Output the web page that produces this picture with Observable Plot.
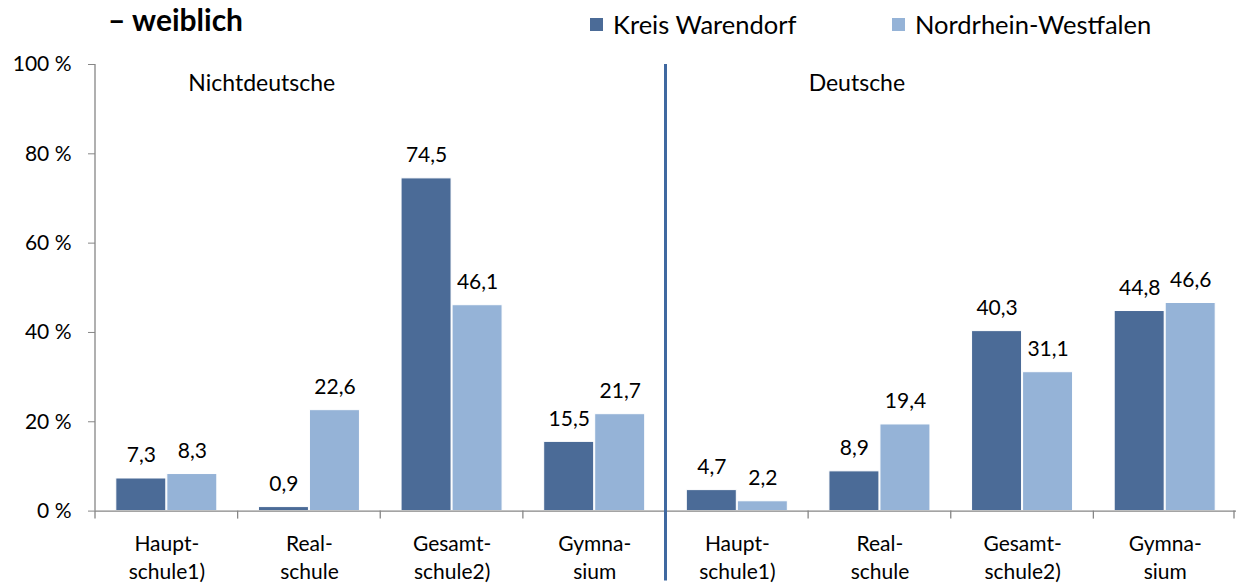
<!DOCTYPE html>
<html><head><meta charset="utf-8">
<script src="https://cdn.jsdelivr.net/npm/d3@7"></script>
<script src="https://cdn.jsdelivr.net/npm/@observablehq/plot@0.6"></script>
<style>
body{margin:0;background:#fff;font-family:Lato,sans-serif;}
#wrap{position:relative;width:1236px;height:585px;overflow:hidden;background:#fff;}
#head{position:relative;height:40px;}
.title{position:absolute;left:108px;top:4px;font-weight:bold;font-size:30px;line-height:1;color:#000;white-space:nowrap;}
.leg{position:absolute;top:12px;font-size:25.5px;line-height:1;color:#000;display:flex;align-items:center;white-space:nowrap;}
.sw{display:inline-block;width:13px;height:13px;margin-right:10px;}
#chart svg{display:block;}
</style></head><body>
<div id="wrap">
<div id="head">
<div class="title">– weiblich</div>
<div class="leg" style="left:590px"><span class="sw" style="background:#4b6b97"></span>Kreis Warendorf</div>
<div class="leg" style="left:892px"><span class="sw" style="background:#95b3d7"></span>Nordrhein-Westfalen</div>
</div>
<div id="chart"></div>
</div>
<script>
// ---- data ----
const seriesNames = ["Kreis Warendorf", "Nordrhein-Westfalen"];
const seriesColors = ["#4b6b97", "#95b3d7"];
const nichtKeys = ["N-Haupt", "N-Real", "N-Gesamt", "N-Gymna"];
const deutschKeys = ["D-Haupt", "D-Real", "D-Gesamt", "D-Gymna"];
const schoolLabels = ["Haupt-\nschule1)", "Real-\nschule", "Gesamt-\nschule2)", "Gymna-\nsium"];
const kreisNicht = [7.3, 0.9, 74.5, 15.5];
const nrwNicht = [8.3, 22.6, 46.1, 21.7];
const kreisDeutsch = [4.7, 8.9, 40.3, 44.8];
const nrwDeutsch = [2.2, 19.4, 31.1, 46.6];
const yTicks = [0, 20, 40, 60, 80, 100];
const sectionLabels = ["Nichtdeutsche", "Deutsche"];

// ---- table ----
const groupKeys = nichtKeys.concat(deutschKeys);
const kreis = kreisNicht.concat(kreisDeutsch);
const nrw = nrwNicht.concat(nrwDeutsch);
const labelFor = {};
groupKeys.forEach((k, i) => labelFor[k] = schoolLabels[i % 4]);
const data = [];
groupKeys.forEach((k, i) => {
  data.push({key: k, series: seriesNames[0], value: kreis[i]});
  data.push({key: k, series: seriesNames[1], value: nrw[i]});
});
const fmt = v => v.toFixed(1).replace(".", ",");

const W = 1236, H = 545;
const plot = Plot.plot({
  width: W, height: H,
  marginLeft: 95, marginRight: 0, marginTop: 24, marginBottom: 74.4,
  style: {fontFamily: "Lato, sans-serif", color: "#000", background: "white"},
  fx: {domain: groupKeys, padding: 0, round: false, label: null, axis: null},
  x: {type: "band", domain: seriesNames, paddingInner: 0.02, paddingOuter: 0.408, round: false, axis: null},
  y: {domain: [0, 100], axis: null},
  color: {domain: seriesNames, range: seriesColors},
  marks: [
    Plot.barY(data, {fx: "key", x: "series", y: "value", fill: "series", stroke: "white", strokeWidth: 1}),
    Plot.ruleY([0], {stroke: "#868686", strokeWidth: 1.3}),
    Plot.text(data, {fx: "key", x: "series", y: "value", text: d => fmt(d.value), dy: -23, fontSize: 21, lineAnchor: "middle", fill: "#000"}),
    Plot.axisY({ticks: yTicks, tickFormat: d => d + " %", tickSize: 7, tickPadding: 17, fontSize: 21, stroke: "#868686", fill: "#000", label: null}),
    Plot.axisFx({anchor: "bottom", tickFormat: k => labelFor[k], tickSize: 0, tickPadding: 21, fontSize: 21, lineHeight: 1.3, fill: "#000", label: null}),
    Plot.text([sectionLabels[0]], {fx: ["N-Haupt"], x: [seriesNames[1]], y: [95.7], text: d => d, textAnchor: "start", dx: -4, fontSize: 23, lineAnchor: "middle", fill: "#000"}),
    Plot.text([sectionLabels[1]], {fx: ["D-Real"], y: [95.7], frameAnchor: "left", text: d => d, textAnchor: "start", fontSize: 23, lineAnchor: "middle", fill: "#000"})
  ]
});
document.getElementById("chart").appendChild(plot);

// decorations derived from Plot's own scales
const fxs = plot.scale("fx"), ys = plot.scale("y");
const r0 = fxs.range[0], r1 = fxs.range[1], n = fxs.domain.length, step = (r1 - r0) / n;
const yb = ys.range[0], yt = ys.range[1];
const svg = d3.select(plot);
const g = svg.append("g");
g.append("line").attr("x1", r0).attr("x2", r0).attr("y1", yt).attr("y2", yb).attr("stroke", "#868686").attr("stroke-width", 1.3);
for (let i = 0; i <= n; i++) {
  const xx = Math.min(r0 + i * step, W - 2);
  g.append("line").attr("x1", xx).attr("x2", xx).attr("y1", yb).attr("y2", yb + 8).attr("stroke", "#868686").attr("stroke-width", 1.3);
}
const xm = r0 + (n / 2) * step;
g.append("line").attr("x1", xm).attr("x2", xm).attr("y1", yt).attr("y2", yb + 70).attr("stroke", "#3f68a0").attr("stroke-width", 3);
</script>
</body></html>
